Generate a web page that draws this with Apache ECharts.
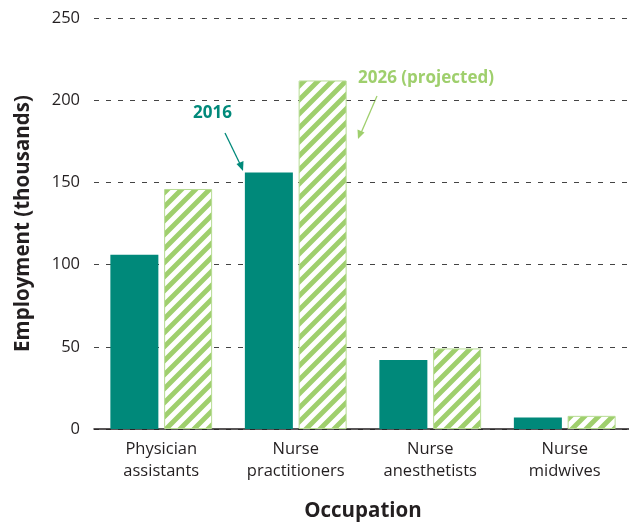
<!DOCTYPE html>
<html>
<head>
<meta charset="utf-8">
<script src="https://cdn.jsdelivr.net/npm/echarts@6/dist/echarts.min.js"></script>
<style>
  html, body { margin: 0; padding: 0; background: #fff; }
  #chart { width: 629px; height: 523px; }
</style>
</head>
<body>
<div id="chart"></div>
<script>
  var categories = ['Physician\nassistants', 'Nurse\npractitioners', 'Nurse\nanesthetists', 'Nurse\nmidwives'];
  var values2016 = [106, 156, 42, 7];
  var values2026 = [146, 212, 49, 8];
  var yTicks = [0, 50, 100, 150, 200, 250];

  var teal = '#00897A';
  var green = '#9FCF6D';

  // diagonal stripe tile for the projected bars
  function stripes() {
    var s = 14;
    var c = document.createElement('canvas');
    c.width = s; c.height = s;
    var ctx = c.getContext('2d');
    ctx.fillStyle = green;
    ctx.fillRect(0, 0, s, s);
    ctx.strokeStyle = '#ffffff';
    ctx.lineWidth = 5;
    ctx.beginPath();
    ctx.moveTo(-s, s); ctx.lineTo(s, -s);
    ctx.moveTo(0, 2 * s); ctx.lineTo(2 * s, 0);
    ctx.moveTo(-s / 2, 3 * s / 2); ctx.lineTo(3 * s / 2, -s / 2);
    ctx.stroke();
    return c;
  }

  var chart = echarts.init(document.getElementById('chart'));
  var font = '"Open Sans", "Noto Sans", sans-serif';

  var option = {
    animation: false,
    textStyle: { fontFamily: font },
    grid: { left: 94, right: -3, top: 18, bottom: 94, containLabel: false, outerBoundsMode: 'none' },
    xAxis: {
      type: 'category',
      data: categories,
      axisLine: { lineStyle: { color: '#231F20', width: 1.5 } },
      axisTick: { show: false },
      axisLabel: { color: '#231F20', fontSize: 16.5, lineHeight: 22, margin: 9, fontFamily: font },
      name: 'Occupation',
      nameLocation: 'middle',
      nameGap: 72,
      nameTextStyle: { color: '#231F20', fontSize: 20.5, fontWeight: 'bold', fontFamily: font }
    },
    yAxis: {
      type: 'value',
      min: yTicks[0],
      max: yTicks[yTicks.length - 1],
      interval: 50,
      axisLine: { show: false },
      axisTick: { show: false },
      axisLabel: { color: '#231F20', fontSize: 16.5, margin: 14, fontFamily: font },
      splitLine: { lineStyle: { color: '#444', type: [5, 7], width: 1.2 } },
      name: 'Employment (thousands)',
      nameLocation: 'middle',
      nameGap: 60,
      nameTextStyle: { color: '#231F20', fontSize: 20.5, fontWeight: 'bold', fontFamily: font }
    },
    series: [
      {
        name: '2016',
        type: 'bar',
        data: values2016,
        barWidth: 48,
        barGap: '12%',
        itemStyle: { color: teal }
      },
      {
        name: '2026 (projected)',
        type: 'bar',
        data: values2026,
        barWidth: 48,
        itemStyle: {
          color: { image: stripes(), repeat: 'repeat' },
          borderColor: '#B6DC93',
          borderWidth: 1
        }
      }
    ],
    graphic: [
      {
        type: 'text', left: 193, top: 105,
        style: { text: '2016', fill: teal, font: 'bold 17px ' + font }
      },
      {
        type: 'line',
        shape: { x1: 225, y1: 133, x2: 241, y2: 166 },
        style: { stroke: teal, lineWidth: 1.3 }
      },
      {
        type: 'polygon',
        shape: { points: [[243, 171], [236.5, 164], [243.5, 161]] },
        style: { fill: teal }
      },
      {
        type: 'text', left: 358, top: 70,
        style: { text: '2026 (projected)', fill: green, font: 'bold 17px ' + font }
      },
      {
        type: 'line',
        shape: { x1: 377, y1: 96, x2: 361, y2: 133 },
        style: { stroke: green, lineWidth: 1.3 }
      },
      {
        type: 'polygon',
        shape: { points: [[358, 139], [357.5, 129.5], [364.5, 132.5]] },
        style: { fill: green }
      }
    ]
  };

  chart.setOption(option);
</script>
</body>
</html>
